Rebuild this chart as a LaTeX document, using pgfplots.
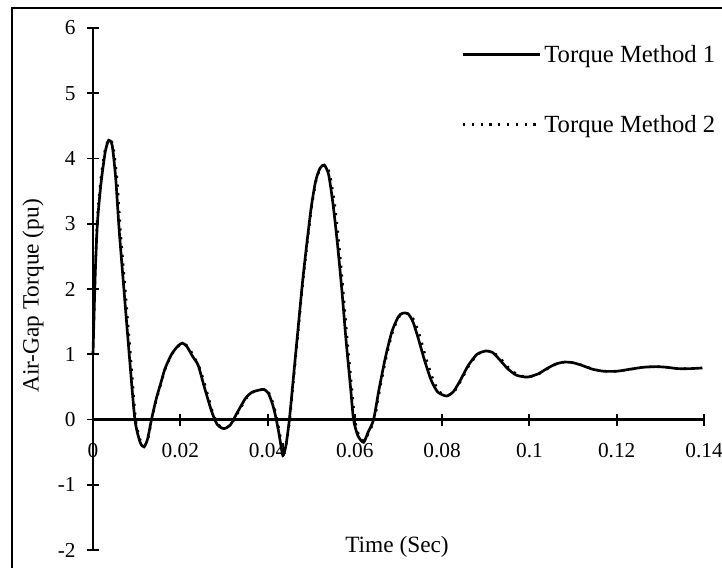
\documentclass[border=0pt]{standalone}
\usepackage{fontspec}
\setmainfont{Liberation Serif}
\usepackage{pgfplots}
\pgfplotsset{compat=1.18}
\begin{document}
\begin{tikzpicture}
\useasboundingbox (0,0) rectangle (541.5pt,426pt);
\draw[line width=1.2pt] (9pt,0pt) -- (9pt,420pt) -- (541.5pt,420pt);
\begin{axis}[
  at={(69.75pt,13.5pt)}, anchor=south west,
  scale only axis, width=458.25pt, height=391.5pt,
  xmin=0, xmax=0.14, ymin=-2, ymax=6,
  axis lines=middle, axis line style={-, line width=1.8pt},
  xtick={0,0.02,0.04,0.06,0.08,0.1,0.12,0.14}, ytick={-2,-1,0,1,2,3,4,5,6},
  hide obscured x ticks=false, hide obscured y ticks=false,
  scaled x ticks=false,
  tick align=center, major tick length=9pt,
  tick style={line width=1.4pt, black},
  minor tick num=0,
  /pgf/number format/assume math mode=true,
  ticklabel style={font=\fontsize{16}{18}\selectfont},
  xticklabel style={/pgf/number format/fixed, /pgf/number format/precision=2, yshift=-10pt},
  yticklabel style={xshift=-5pt},
  clip=false,
  legend cell align=left,
  legend style={draw=none, fill=none, at={(0.603,0.882)}, anchor=west,
    font=\fontsize{18.5}{20}\selectfont, row sep=34pt, inner sep=0pt,
    nodes={inner sep=2pt}},
  legend image code/.code={\draw[#1] (0pt,0pt) -- (58pt,0pt);},
]
\addplot[black, line width=2pt, smooth, tension=0.4] coordinates {
(0,1.0) (0.0005,2.2) (0.001,3.0) (0.0018,3.6) (0.0028,4.1) (0.0036,4.28) (0.0044,4.2)
(0.0052,3.7) (0.006,2.9) (0.0069,2.15) (0.0083,1.0) (0.0096,0) (0.0108,-0.35) (0.0117,-0.42)
(0.0125,-0.3) (0.0134,0) (0.0145,0.32) (0.0155,0.55) (0.0165,0.78) (0.018,1.0) (0.0195,1.13)
(0.0205,1.17) (0.0215,1.12) (0.0228,0.97) (0.0241,0.83) (0.0255,0.5) (0.0272,0.12) (0.0285,-0.08)
(0.030,-0.14) (0.0315,-0.08) (0.033,0.1) (0.035,0.33) (0.0365,0.42) (0.038,0.45) (0.0392,0.46)
(0.0402,0.40) (0.0412,0.22) (0.042,0.0) (0.0427,-0.25) (0.0435,-0.55) (0.0442,-0.4) (0.045,0.0)
(0.046,0.7) (0.047,1.4) (0.048,2.1) (0.049,2.7) (0.050,3.25) (0.051,3.65) (0.052,3.85)
(0.053,3.9) (0.054,3.75) (0.055,3.3) (0.056,2.7) (0.057,2.0) (0.058,1.2) (0.059,0.5)
(0.0597,0) (0.0607,-0.25) (0.062,-0.35) (0.063,-0.2) (0.0643,0) (0.0655,0.45) (0.067,0.95)
(0.0685,1.35) (0.070,1.58) (0.071,1.63) (0.0722,1.62) (0.0733,1.5) (0.0745,1.25) (0.076,0.9)
(0.0775,0.6) (0.079,0.42) (0.081,0.36) (0.0825,0.42) (0.084,0.58) (0.086,0.83) (0.088,1.0)
(0.090,1.05) (0.0915,1.03) (0.093,0.93) (0.095,0.78) (0.097,0.68) (0.0995,0.65) (0.102,0.7)
(0.104,0.78) (0.106,0.85) (0.108,0.88) (0.110,0.87) (0.112,0.83) (0.1145,0.77) (0.117,0.74)
(0.120,0.74) (0.123,0.77) (0.126,0.80) (0.129,0.81) (0.1315,0.80) (0.134,0.78) (0.137,0.78)
(0.1396,0.79)
};
\addlegendentry{Torque Method 1}
\addplot[black, line width=1.8pt, dash pattern=on 1.6pt off 5pt, smooth, tension=0.4] coordinates {
(0,1.0) (0.0005,2.3) (0.001,3.1) (0.0018,3.7) (0.0028,4.15) (0.0037,4.3) (0.0046,4.2)
(0.0055,3.7) (0.0063,2.9) (0.0072,2.15) (0.0086,1.0) (0.0098,0) (0.011,-0.35) (0.0118,-0.4)
(0.0126,-0.3) (0.0135,0) (0.0146,0.32) (0.0156,0.55) (0.0166,0.78) (0.0181,1.0) (0.0197,1.13)
(0.0207,1.16) (0.0218,1.12) (0.0231,0.97) (0.0244,0.8) (0.0258,0.5) (0.0274,0.12) (0.0287,-0.08)
(0.0302,-0.13) (0.0317,-0.07) (0.0332,0.1) (0.0352,0.33) (0.0367,0.42) (0.0382,0.45) (0.0394,0.46)
(0.0404,0.40) (0.0414,0.22) (0.0422,0.0) (0.0429,-0.25) (0.0436,-0.5) (0.0443,-0.38) (0.0451,0.0)
(0.0461,0.7) (0.0471,1.4) (0.0481,2.1) (0.0491,2.7) (0.0501,3.25) (0.0511,3.65) (0.0521,3.85)
(0.0531,3.9) (0.0542,3.78) (0.0553,3.35) (0.0563,2.75) (0.0573,2.0) (0.0583,1.2) (0.0593,0.5)
(0.06,0) (0.061,-0.25) (0.0622,-0.33) (0.0632,-0.2) (0.0645,0) (0.0657,0.45) (0.0672,0.95)
(0.0687,1.35) (0.0702,1.58) (0.0713,1.62) (0.0726,1.62) (0.0737,1.5) (0.0749,1.28) (0.0764,0.92)
(0.0779,0.62) (0.0793,0.43) (0.0812,0.37) (0.0827,0.42) (0.0842,0.58) (0.0862,0.83) (0.0882,1.0)
(0.0902,1.05) (0.0917,1.03) (0.0933,0.94) (0.0953,0.79) (0.0973,0.69) (0.0997,0.65) (0.1022,0.7)
(0.1042,0.78) (0.1062,0.85) (0.1082,0.88) (0.1102,0.87) (0.1122,0.83) (0.1147,0.77) (0.1172,0.74)
(0.1202,0.74) (0.1232,0.77) (0.1262,0.80) (0.1292,0.81) (0.1317,0.80) (0.1342,0.78) (0.1372,0.78)
(0.1396,0.79)
};
\addlegendentry{Torque Method 2}
\end{axis}
\node[rotate=90, font=\fontsize{17.5}{19}\selectfont] at (24.75pt,204pt) {Air-Gap Torque (pu)};
\node[font=\fontsize{17.5}{19}\selectfont] at (297.75pt,15.5pt) {Time (Sec)};
\end{tikzpicture}
\end{document}
